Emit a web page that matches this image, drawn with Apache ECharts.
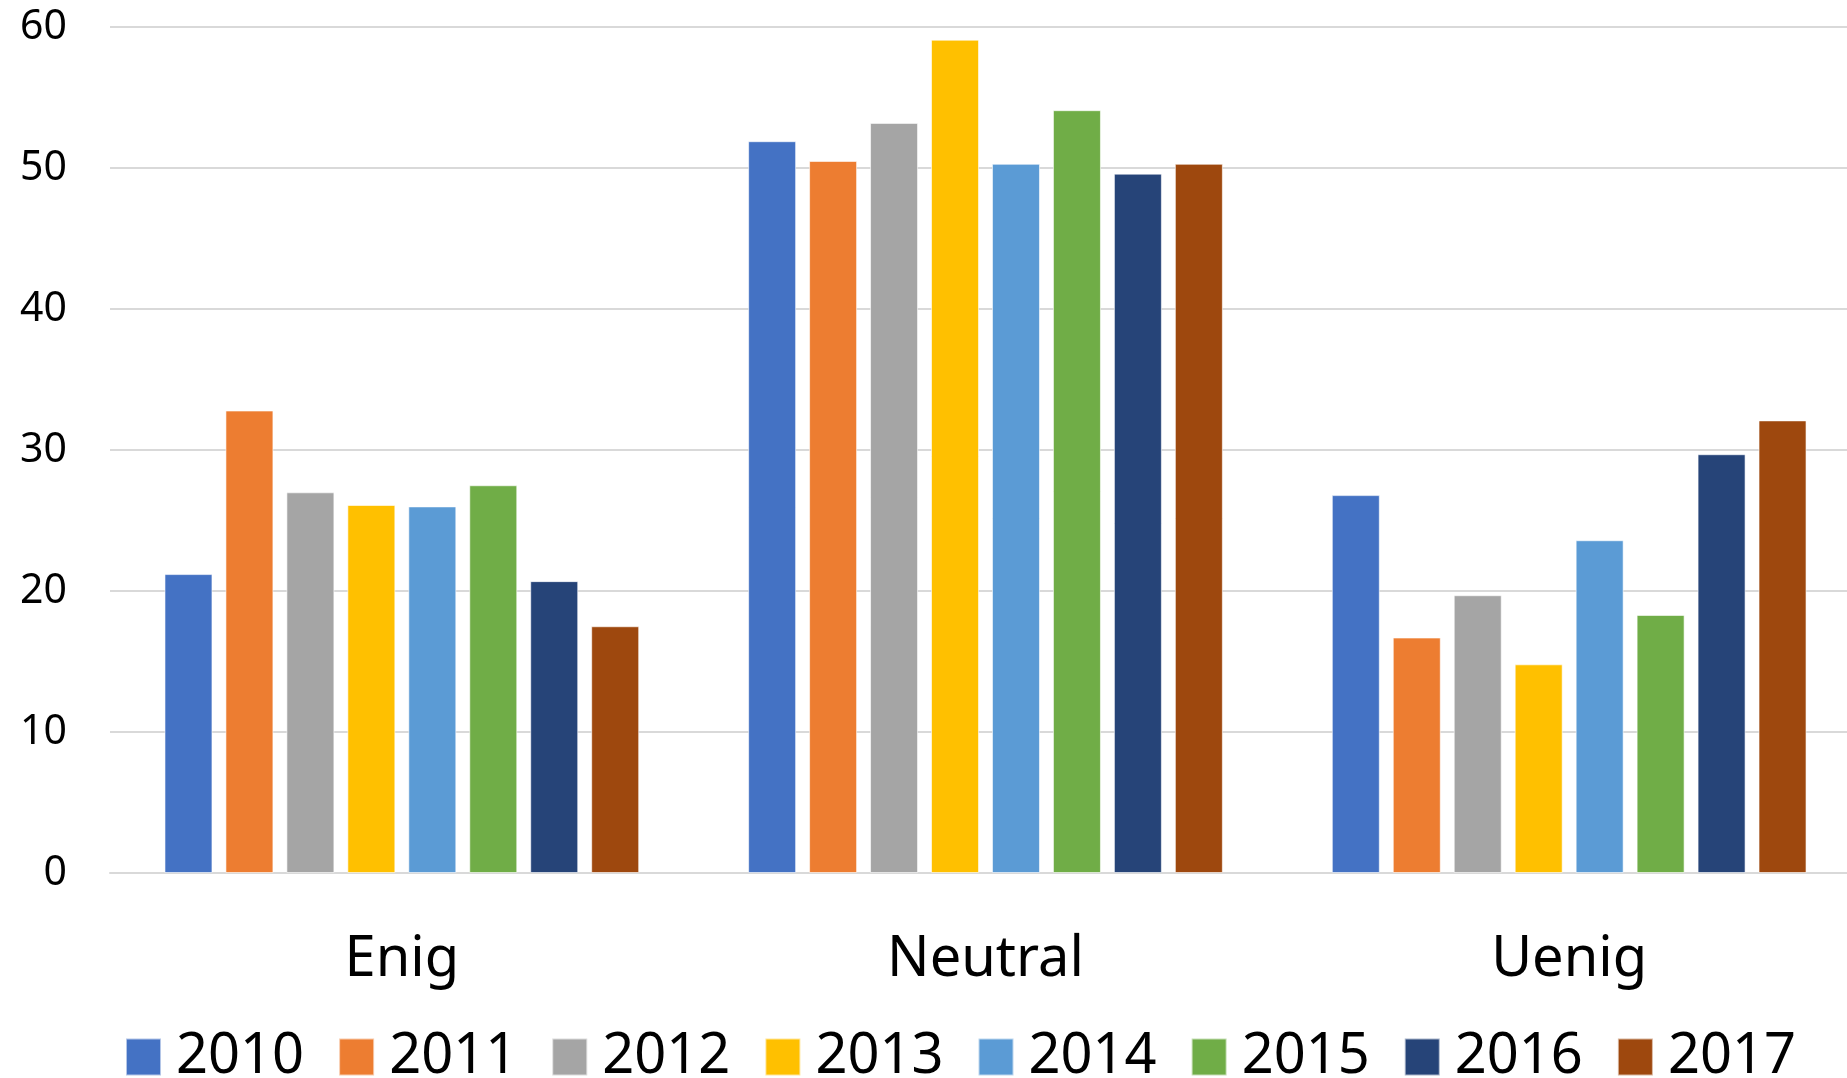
<!DOCTYPE html>
<html>
<head>
<meta charset="utf-8">
<script src="https://cdn.jsdelivr.net/npm/echarts@6/dist/echarts.min.js"></script>
<style>html,body{margin:0;padding:0;background:#fff;overflow:hidden;width:1847px;height:1078px;}#chart{width:1861px;height:1078px;}</style>
</head>
<body>
<div id="chart"></div>
<script>
const categories = ['Enig', 'Neutral', 'Uenig'];
const years = ['2010', '2011', '2012', '2013', '2014', '2015', '2016', '2017'];
const v2010 = [21.2, 51.9, 26.8];
const v2011 = [32.8, 50.5, 16.7];
const v2012 = [27.0, 53.2, 19.7];
const v2013 = [26.1, 59.1, 14.8];
const v2014 = [26.0, 50.3, 23.6];
const v2015 = [27.5, 54.1, 18.3];
const v2016 = [20.7, 49.6, 29.7];
const v2017 = [17.5, 50.3, 32.1];
const yTicks = [0, 10, 20, 30, 40, 50, 60];

const seriesValues = [v2010, v2011, v2012, v2013, v2014, v2015, v2016, v2017];
const colors = ['#4472C4', '#ED7D31', '#A5A5A5', '#FFC000', '#5B9BD5', '#70AD47', '#264478', '#9E480E'];
const font = '"Noto Sans", sans-serif';

const chart = echarts.init(document.getElementById('chart'), null, {renderer: 'canvas'});
chart.setOption({
  animation: false,
  color: colors,
  grid: {left: 110, right: 0, top: 27, height: 846, containLabel: false},
  legend: {
    data: years,
    left: 125,
    top: 1029,
    padding: 0,
    itemWidth: 35,
    itemHeight: 37,
    itemGap: 34,
    icon: 'rect',
    textStyle: {fontFamily: font, fontSize: 56, color: '#000', width: 128, lineHeight: 44, padding: [0, 0, 0, 10]}
  },
  xAxis: {
    type: 'category',
    data: categories,
    axisLine: {lineStyle: {color: '#d9d9d9', width: 2}},
    axisTick: {show: false},
    axisLabel: {fontFamily: font, fontSize: 56, color: '#000', margin: 59, lineHeight: 56}
  },
  yAxis: {
    type: 'value',
    min: yTicks[0],
    max: yTicks[yTicks.length - 1],
    interval: 10,
    axisLine: {show: false},
    axisTick: {show: false},
    splitLine: {lineStyle: {color: '#d9d9d9', width: 2}},
    axisLabel: {fontFamily: font, fontSize: 41, color: '#000', margin: 43}
  },
  series: years.map((y, i) => ({
    name: y,
    type: 'bar',
    data: seriesValues[i],
    barWidth: 48,
    barGap: '27%',
    itemStyle: {color: colors[i], borderColor: 'rgba(255,255,255,0.6)', borderWidth: 1}
  }))
});
</script>
</body>
</html>
